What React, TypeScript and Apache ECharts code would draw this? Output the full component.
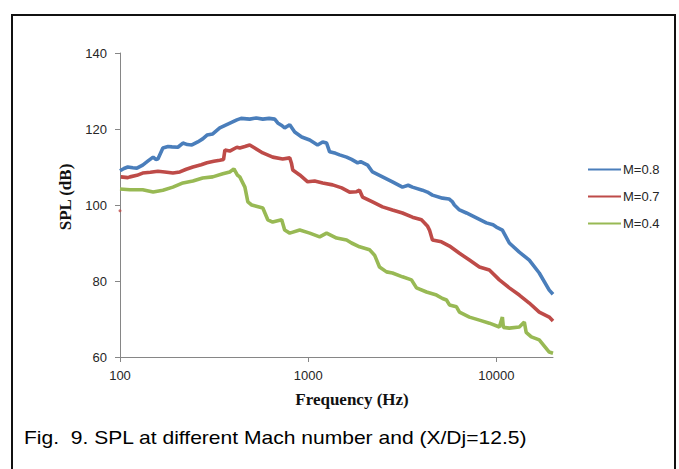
import React, { useEffect, useRef } from "react";
import * as echarts from "echarts";

// Frequency (Hz) and SPL (dB)
const freqM08 = [100, 105, 110, 117, 123, 132, 141, 150, 155, 159, 169, 180, 189, 203, 216, 228, 241, 259, 275, 290, 311, 339, 374, 418, 440, 489, 530, 574, 620, 664, 689, 720, 750, 798, 848, 924, 1019, 1122, 1194, 1253, 1300, 1400, 1469, 1600, 1700, 1832, 1900, 2070, 2198, 2483, 2805, 3170, 3400, 3581, 4048, 4300, 4575, 5176, 5600, 5848, 5984, 6368, 6934, 7834, 8851, 9600, 10000, 10765, 11721, 13243, 14962, 16904, 19099, 20000];
const splM08 = [109.0, 109.6, 110.0, 109.8, 109.7, 110.5, 111.6, 112.6, 112.0, 112.1, 115.0, 115.4, 115.3, 115.2, 116.3, 115.9, 115.8, 116.6, 117.4, 118.4, 118.7, 120.3, 121.3, 122.4, 122.8, 122.6, 122.9, 122.6, 122.8, 122.6, 121.6, 121.0, 120.3, 121.1, 119.2, 117.9, 117.1, 115.8, 116.6, 116.3, 114.0, 113.6, 113.2, 112.6, 112.0, 111.1, 111.4, 110.5, 108.7, 107.4, 106.1, 104.7, 105.2, 104.7, 103.9, 103.4, 102.6, 101.8, 101.6, 100.8, 100.0, 98.7, 97.9, 96.6, 95.3, 94.8, 94.2, 93.4, 90.0, 87.6, 85.5, 82.1, 77.6, 76.5];

const freqM07 = [101, 110, 113, 123, 132, 145, 159, 173, 191, 208, 225, 244, 270, 290, 315, 339, 355, 361, 383, 418, 433, 461, 489, 520, 574, 648, 732, 798, 815, 828, 902, 994, 1082, 1194, 1349, 1507, 1660, 1808, 1875, 1945, 2198, 2483, 2805, 3170, 3581, 4000, 4300, 4413, 4575, 5107, 5636, 6368, 7194, 8128, 9183, 10375, 11721, 13243, 14962, 16904, 19099, 20000];
const splM07 = [107.4, 107.2, 107.4, 107.8, 108.4, 108.6, 108.9, 108.7, 108.4, 108.7, 109.4, 110.0, 110.6, 111.1, 111.5, 111.8, 112.0, 114.5, 114.2, 115.2, 115.0, 115.4, 115.8, 115.0, 113.7, 112.6, 112.1, 112.4, 111.0, 109.2, 107.9, 106.1, 106.3, 105.8, 105.3, 104.5, 103.4, 103.5, 103.9, 102.1, 100.8, 99.5, 98.7, 97.9, 96.8, 96.1, 94.5, 93.4, 90.8, 90.3, 89.2, 87.3, 85.5, 83.7, 82.9, 80.3, 78.2, 76.3, 74.2, 71.8, 70.5, 69.5];
const strayM07 = [[100, 98.5]];

const freqM04 = [100, 113, 132, 150, 169, 191, 216, 244, 275, 311, 352, 383, 403, 420, 433, 461, 478, 501, 574, 610, 648, 723, 750, 798, 902, 1019, 1151, 1253, 1416, 1600, 1700, 1875, 2119, 2254, 2393, 2608, 2805, 3170, 3540, 3764, 4255, 4808, 5176, 5433, 5636, 6138, 6368, 7194, 8128, 9183, 10375, 10765, 10900, 11721, 13243, 14080, 14400, 15346, 16904, 19099, 20000];
const splM04 = [104.2, 104.0, 104.0, 103.4, 103.9, 104.7, 105.8, 106.3, 107.1, 107.4, 108.2, 108.7, 109.5, 107.9, 107.4, 104.7, 100.8, 100.0, 99.2, 96.1, 95.5, 96.1, 93.4, 92.6, 93.4, 92.6, 91.6, 92.6, 91.3, 90.8, 90.0, 89.0, 88.2, 86.8, 83.7, 82.4, 82.1, 81.1, 80.3, 78.2, 77.1, 76.3, 75.4, 75.0, 73.7, 73.2, 71.8, 70.5, 69.7, 68.9, 67.9, 70.5, 67.8, 67.6, 67.9, 69.2, 66.5, 65.3, 64.5, 61.3, 61.0];

const seriesNames = ["M=0.8", "M=0.7", "M=0.4"];
const seriesColors = ["#4A7EBB", "#BE4B48", "#98B954"];
const xTickValues = [100, 1000, 10000];
const yMin = 60;
const yMax = 140;
const yStep = 20;
const xMin = 100;
const xMax = 20000;

const zip = (f: number[], v: number[]) => f.map((x, i) => [x, v[i]]);

export default function App() {
  const ref = useRef<HTMLDivElement>(null);
  useEffect(() => {
    if (!ref.current) return;
    const chart = echarts.init(ref.current, null, { renderer: "svg" });
    const lineSeries = (name: string, data: number[][], color: string) => ({
      type: "line",
      name,
      data,
      symbol: "none",
      showSymbol: false,
      lineStyle: { color, width: 3.6 },
      itemStyle: { color },
      z: 3,
    });
    chart.setOption({
      animation: false,
      backgroundColor: "#ffffff",
      grid: { left: 120, top: 53, right: 126, bottom: 112 },
      xAxis: {
        type: "log",
        logBase: 10,
        min: xMin,
        max: xMax,
        axisLine: { lineStyle: { color: "#868686", width: 1 } },
        axisTick: { show: true, inside: false, length: 5, customValues: xTickValues, lineStyle: { color: "#868686" } },
        axisLabel: {
          customValues: xTickValues,
          formatter: (v: number) => String(Math.round(v)),
          margin: 12,
          fontFamily: "Liberation Sans, Arial, sans-serif",
          fontSize: 13,
          color: "#262626",
        },
        splitLine: { show: false },
        minorTick: { show: false },
      },
      yAxis: {
        type: "value",
        min: yMin,
        max: yMax,
        interval: yStep,
        axisLine: { show: true, lineStyle: { color: "#868686", width: 1 } },
        axisTick: { show: true, inside: false, length: 5, lineStyle: { color: "#868686" } },
        axisLabel: {
          margin: 13,
          fontFamily: "Liberation Sans, Arial, sans-serif",
          fontSize: 13,
          color: "#262626",
        },
        splitLine: { show: false },
      },
      legend: {
        data: seriesNames,
        orient: "vertical",
        left: 583,
        top: 158,
        itemWidth: 33,
        itemHeight: 14,
        itemGap: 14,
        icon: "path://M0,6 L33,6 L33,8 L0,8 Z",
        textStyle: { fontFamily: "Liberation Sans, Arial, sans-serif", fontSize: 13, color: "#262626", padding: [0, 0, 0, -3] },
      },
      series: [
        lineSeries(seriesNames[0], zip(freqM08, splM08), seriesColors[0]),
        lineSeries(seriesNames[1], zip(freqM07, splM07), seriesColors[1]),
        lineSeries(seriesNames[2], zip(freqM04, splM04), seriesColors[2]),
        {
          type: "scatter",
          name: "stray",
          data: strayM07,
          symbol: "circle",
          symbolSize: 3,
          itemStyle: { color: seriesColors[1] },
          z: 4,
        },
      ],
      graphic: [
        {
          type: "rect",
          shape: { x: 12, y: 15, width: 663, height: 470 },
          style: { fill: "none", stroke: "#111", lineWidth: 2 },
          z: 10,
        },
        {
          type: "text",
          x: 65,
          y: 197,
          rotation: Math.PI / 2,
          style: {
            text: "SPL (dB)",
            font: "bold 17px 'Liberation Serif', 'Times New Roman', serif",
            fill: "#111",
            align: "center",
            verticalAlign: "middle",
          },
        },
        {
          type: "text",
          x: 352,
          y: 399,
          style: {
            text: "Frequency (Hz)",
            font: "bold 17px 'Liberation Serif', 'Times New Roman', serif",
            fill: "#111",
            align: "center",
            verticalAlign: "middle",
          },
        },
        {
          type: "text",
          x: 24,
          y: 438,
          scaleX: 1.17,
          style: {
            text: "Fig.  9. SPL at different Mach number and (X/Dj=12.5)",
            font: "18px 'Liberation Sans', Arial, sans-serif",
            fill: "#000",
            align: "left",
            verticalAlign: "middle",
          },
        },
      ],
    });
    return () => chart.dispose();
  }, []);
  return <div ref={ref} style={{ position: "absolute", left: 0, top: 0, width: 679, height: 469 }} />;
}
